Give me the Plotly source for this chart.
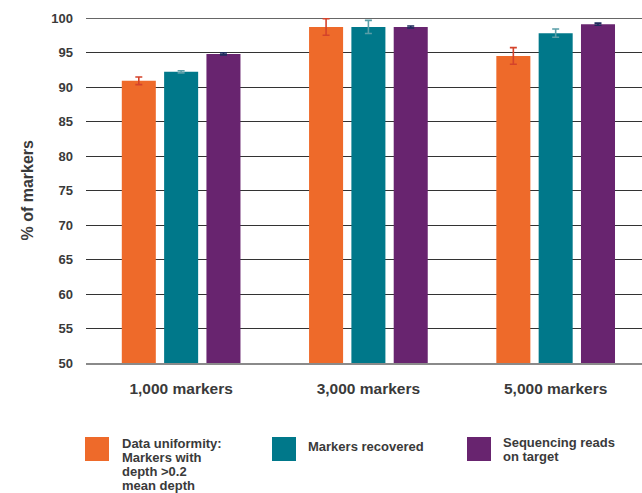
import plotly.graph_objects as go

categories = ["1,000 markers", "3,000 markers", "5,000 markers"]

series_names = [
    "Data uniformity: Markers with depth >0.2 mean depth",
    "Markers recovered",
    "Sequencing reads on target",
]
legend_lines = [
    ["Data uniformity:", "Markers with", "depth >0.2", "mean depth"],
    ["Markers recovered"],
    ["Sequencing reads", "on target"],
]

uniformity = [90.9, 98.7, 94.5]
uniformity_err = [0.55, 1.2, 1.2]
recovered = [92.2, 98.7, 97.8]
recovered_err = [0.15, 0.95, 0.6]
on_target = [94.8, 98.7, 99.1]
on_target_err = [0.15, 0.15, 0.15]

y_ticks = [50, 55, 60, 65, 70, 75, 80, 85, 90, 95, 100]

bar_colors = ["#EE6A2A", "#00788A", "#68246F"]
err_colors = ["#D4432B", "#5A9EA8", "#1E2B5C"]

values = [uniformity, recovered, on_target]
errors = [uniformity_err, recovered_err, on_target_err]

FONT = "Liberation Sans, Arial, sans-serif"
TXT = "#3a3a3a"

W, H = 642, 493
L, R, T, B = 86, 0, 18, 130
PW = W - L - R
PH = H - T - B


def px(x):
    return (x - L) / PW


def py(y):
    return (H - B - y) / PH


fig = go.Figure()
for name, vals, errs, c, ec in zip(series_names, values, errors, bar_colors, err_colors):
    fig.add_trace(go.Bar(
        x=categories,
        y=vals,
        name=name,
        marker=dict(color=c, line=dict(width=0)),
        error_y=dict(type="data", array=errs, visible=True, color=ec, thickness=1.6, width=3.5),
        showlegend=False,
    ))

# top gridline (at the range edge)
fig.add_shape(
    type="line", xref="paper", yref="y", layer="below",
    x0=0, x1=1, y0=y_ticks[-1], y1=y_ticks[-1],
    line=dict(color="#333333", width=1.5),
)

# custom legend
swatch_x = [85, 272, 467]
text_x = [120, 306, 501]
line_y0 = [443, 446, 442]
for i in range(3):
    fig.add_shape(
        type="rect", xref="paper", yref="paper",
        x0=px(swatch_x[i]), x1=px(swatch_x[i] + 24),
        y0=py(437), y1=py(461),
        fillcolor=bar_colors[i], line=dict(width=0),
    )
    for j, line in enumerate(legend_lines[i]):
        fig.add_annotation(
            x=px(text_x[i]), y=py(line_y0[i] + j * 14.2),
            xref="paper", yref="paper",
            xanchor="left", yanchor="middle",
            text=line, showarrow=False,
            font=dict(family=FONT, size=13, color=TXT, weight="bold"),
        )

# y title
fig.add_annotation(
    x=px(27), y=0.5, xref="paper", yref="paper",
    text="% of markers", textangle=-90, showarrow=False,
    xanchor="center", yanchor="middle",
    font=dict(family=FONT, size=16, color=TXT, weight="bold"),
)

fig.update_layout(
    width=W, height=H,
    margin=dict(l=L, r=R, t=T, b=B, pad=0),
    paper_bgcolor="white", plot_bgcolor="white",
    barmode="group", bargap=0.322, bargroupgap=0.196,
    xaxis=dict(
        type="category",
        range=[-0.508, 2.461],
        showgrid=False, zeroline=False,
        showline=True, linecolor="#8a8a8a", linewidth=2,
        ticks="", ticklabelstandoff=10,
        tickfont=dict(family=FONT, size=15.5, color=TXT, weight="bold"),
    ),
    yaxis=dict(
        range=[50, 100],
        tickvals=y_ticks,
        showgrid=True, gridcolor="#333333", gridwidth=1,
        zeroline=False, showline=False,
        ticks="", ticklabelstandoff=12,
        tickfont=dict(family=FONT, size=13, color=TXT, weight="bold"),
    ),
)

fig.write_html(
    "out.html",
    config={"displayModeBar": False},
    post_script="document.body.style.margin='0';document.body.style.overflow='hidden';",
)
